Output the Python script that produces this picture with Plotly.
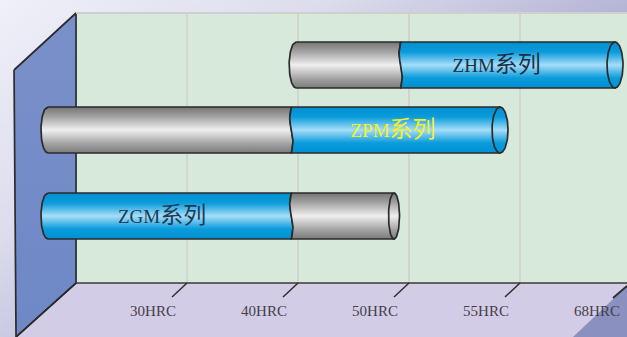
#!/usr/bin/env python
"""Hardness range chart of the ZGM / ZPM / ZHM tool series"""

import numpy as np
import plotly.graph_objects as go

# x axis: one unit per hardness tick, y axis: pixels from the top of the page
tick_pos = [0, 1, 2, 3, 4]
tick_labels = ["30HRC", "40HRC", "50HRC", "55HRC", "68HRC"]

series_names = ["ZHM系列", "ZPM系列", "ZGM系列"]
row_y = [65, 130, 216]
bar_start = [0.92, -1.316, -1.316]
bar_break = [1.925, 0.94, 0.94]
bar_end = [3.856, 2.82, 1.865]
left_part = ["grey", "grey", "blue"]
right_part = ["blue", "blue", "grey"]
label_x = [2.79, 1.856, -0.225]
label_colors = ["#1d2f45", "#f5f01e", "#1d3a55"]

FILLS = {
    "grey": [[0, "#7b7b7b"], [0.2, "#a2a2a2"], [0.5, "#efefef"], [0.8, "#a0a0a0"], [1, "#757575"]],
    "blue": [[0, "#0090d2"], [0.22, "#0b9cdc"], [0.5, "#a6ddf8"], [0.78, "#0b9cdc"], [1, "#008ecf"]],
}
LINE = "#2b2b2b"
HALF = 23
PX = 111.0
CJK = "Noto Sans CJK SC"
SERIF = "Liberation Serif"

fig = go.Figure()

# page background
fig.add_trace(go.Heatmap(
    x=[-1.685, 3.964], y=[0, 337], z=[[0, 1], [0.75, 1.75]],
    colorscale=[[0, "#f0f0fa"], [0.3, "#dcdcec"], [0.6, "#b2b2d4"], [1, "#8a8ab4"]],
    zsmooth="best", showscale=False, hoverinfo="skip",
))


def x_of(px):
    return (px - 187) / PX


def polygon(xs, ys, fill=None, line=None, width=1.7, gradient=None):
    trace = dict(
        x=xs, y=ys, mode="lines", fill="toself", hoverinfo="skip",
        line=dict(color=line or "rgba(0,0,0,0)", width=width),
    )
    if gradient:
        trace["fillgradient"] = dict(type="vertical", colorscale=gradient)
    else:
        trace["fillcolor"] = fill
    fig.add_trace(go.Scatter(**trace))


def seg(x0, y0, x1, y1, color, width):
    fig.add_trace(go.Scatter(
        x=[x0, x1], y=[y0, y1], mode="lines", hoverinfo="skip",
        line=dict(color=color, width=width),
    ))


# back wall, floor, side wall
polygon([x_of(76), 3.964, 3.964, x_of(76), x_of(76)], [13, 13, 283, 283, 13], fill="#d6e9da")
polygon([x_of(76), 3.964, 3.964, x_of(14), x_of(76)], [283, 283, 337, 337, 283], fill="#d2cce6")
polygon([x_of(573), 3.964, 3.964, x_of(573)], [337, 286, 337, 337], fill="#8a90bf")
polygon([x_of(14), x_of(76), x_of(76), x_of(16), x_of(14)], [70, 13, 283, 337, 70],
        gradient=[[0, "#6e88c6"], [1, "#7a90ca"]], line=LINE)

seg(x_of(76), 13, 3.964, 13, "#cfcfcf", 2)
for pos in tick_pos[:4]:
    seg(pos, 14, pos, 283, "#cfcfcf", 1.5)
seg(x_of(76), 283, 3.964, 283, "#3c3836", 1.5)
for pos in tick_pos[:4]:
    seg(pos, 283, pos - 15 / PX, 297, "#2f2f2f", 1.5)
seg(x_of(613), 298, 3.964, 286, "#2f2f2f", 2)
seg(x_of(76), 283, x_of(16), 337, LINE, 1.5)

# cylinders
t = np.linspace(0, 1, 41)
for y, start, brk, end, left, right in zip(row_y, bar_start, bar_break, bar_end, left_part, right_part):
    dy = 2 * HALF * t - HALF
    left_cap = start + 7 / PX * (1 - np.sqrt(1 - (dy / HALF) ** 2))
    wave = brk - 1.6 / PX * np.sin(2 * np.pi * t)
    rx = (8 if end > 2.5 else 5.5) / PX
    theta = np.linspace(0, 2 * np.pi, 81)

    polygon(np.r_[left_cap, wave[::-1], left_cap[0]], np.r_[y + dy, y + dy[::-1], y + dy[0]],
            gradient=FILLS[left], line=LINE)
    polygon(np.r_[wave, end, end, wave[0]], np.r_[y + dy, y + HALF, y - HALF, y + dy[0]],
            gradient=FILLS[right], line=LINE)
    polygon(end + rx * np.cos(theta), y + HALF * np.sin(theta),
            gradient=FILLS[right], line=LINE)

# texts
fig.add_trace(go.Scatter(
    x=[p - 34 / PX for p in tick_pos], y=[312] * 5, mode="text", text=tick_labels,
    textfont=dict(family=SERIF, size=15, color="#453f46"), hoverinfo="skip",
))
for name, x, y, color in zip(series_names, label_x, row_y, label_colors):
    fig.add_trace(go.Scatter(
        x=[x], y=[y + 2], mode="text",
        text=[f'{name[:3]}<span style="font-family:{CJK};font-size:23px">{name[3:]}</span>'],
        textfont=dict(family=SERIF, size=19, color=color), hoverinfo="skip",
    ))

fig.update_layout(
    width=627, height=337,
    margin=dict(l=0, r=0, t=0, b=0),
    paper_bgcolor="#d2cce6", plot_bgcolor="#d2cce6",
    showlegend=False,
    xaxis=dict(range=[-1.685, 3.964], visible=False, fixedrange=True),
    yaxis=dict(range=[337, 0], visible=False, fixedrange=True),
)

# default page margin would push the chart 8px in
fig.write_html("out.html", config=dict(displayModeBar=False),
               post_script="document.body.style.margin='0';document.body.style.overflow='hidden';")
